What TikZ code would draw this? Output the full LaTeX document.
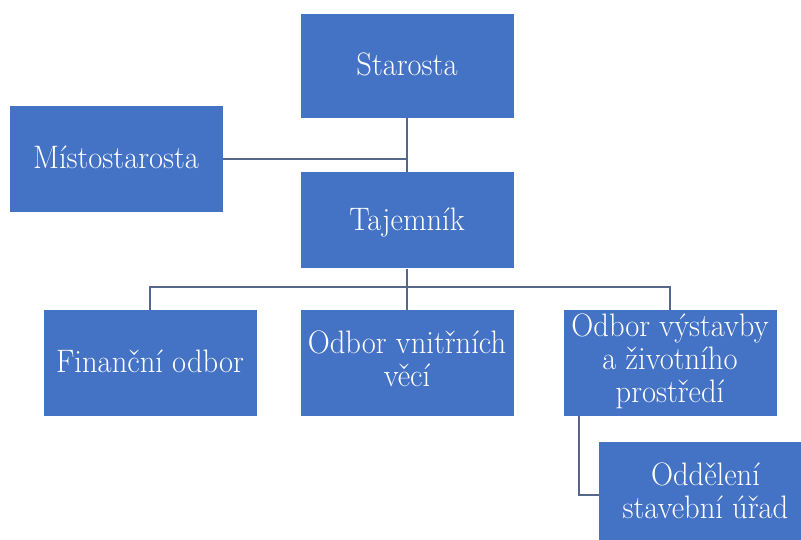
\documentclass[tikz,border=0pt]{standalone}
\usepackage{fontspec}
\usepackage{graphicx}
\definecolor{boxblue}{HTML}{4472C4}
\definecolor{linegray}{HTML}{56688A}
\newcommand{\boxtext}[1]{\scalebox{0.94}[1]{\begin{tabular}{@{}c@{}}#1\end{tabular}}}
\newcommand{\lowtext}[1]{\raisebox{-3pt}[23.1pt][9.9pt]{\boxtext{#1}}}
\begin{document}
\begin{tikzpicture}[x=1pt,y=-1pt,
  orgbox/.style={fill=boxblue, draw=none, text=white, align=center,
    font=\rmfamily\fontsize{32.5}{33}\selectfont, inner sep=0pt,
    minimum width=213pt, minimum height=106pt},
  conn/.style={draw=linegray, line width=2pt}]
\useasboundingbox (0,0) rectangle (801,540);
\clip (0,0) rectangle (801,540);
\fill[white] (0,0) rectangle (801,540);
\node[orgbox, minimum height=104pt] (star) at (407,66) {\lowtext{Starosta}};
\node[orgbox] (mist) at (116,159) {\lowtext{Místostarosta}};
\node[orgbox, minimum height=96pt] (taj) at (407,220.5) {\lowtext{Tajemník}};
\node[orgbox] (fin) at (150,363) {\lowtext{Finanční odbor}};
\node[orgbox] (vnit) at (407,363) {\boxtext{Odbor vnitřních\\věcí}};
\node[orgbox] (vyst) at (670,363) {\boxtext{Odbor výstavby\\a životního\\prostředí}};
\node[orgbox] (odd) at (705.5,495) {\boxtext{Oddělení\\stavební úřad}};
\coordinate (bus) at (407,287);
\draw[conn] (star.south) -- (taj.north);
\draw[conn] (mist.east) -- (star.south |- mist.east);
\draw[conn] (taj.south) -- (bus);
\draw[conn] (fin.north) |- (bus) -| (vyst.north);
\draw[conn] (bus) -- (vnit.north);
\draw[conn] ([xshift=16pt]vyst.south west) |- (odd.west);
\end{tikzpicture}
\end{document}
